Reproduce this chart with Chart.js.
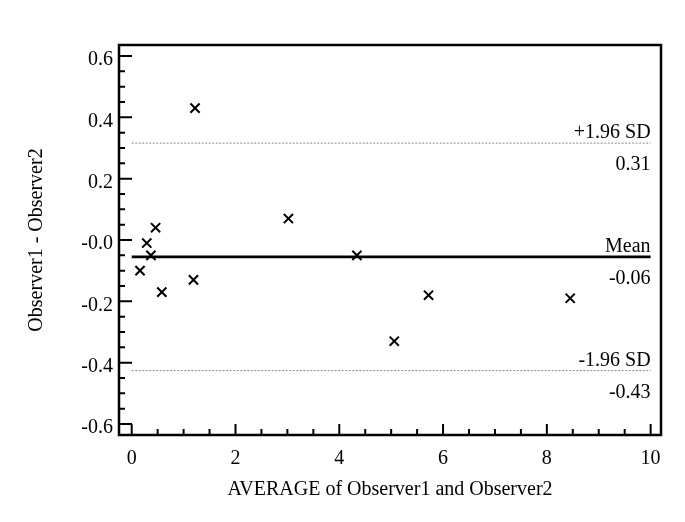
<!DOCTYPE html>
<html>
<head>
<meta charset="utf-8">
<script src="https://cdn.jsdelivr.net/npm/chart.js@4"></script>
<style>
html,body{margin:0;padding:0;background:#fff;}
#wrap{width:685px;height:522px;}
</style>
</head>
<body>
<div id="wrap"><canvas id="c" width="685" height="522"></canvas></div>
<script>
// Data
const avgValues  = [1.22, 0.16, 0.29, 0.37, 0.46, 0.58, 1.19, 3.02, 4.34, 5.06, 5.72, 8.45];
const diffValues = [0.43, -0.10, -0.01, -0.05, 0.04, -0.17, -0.13, 0.07, -0.05, -0.33, -0.18, -0.19];
const meanDiff = -0.055;
const upperLoA = 0.316;
const lowerLoA = -0.426;
const lineLabels = [
  {y: upperLoA, above: '+1.96 SD', below: '0.31'},
  {y: meanDiff, above: 'Mean', below: '-0.06'},
  {y: lowerLoA, above: '-1.96 SD', below: '-0.43'}
];
const xTickValues = [0, 2, 4, 6, 8, 10];
const xTickLabels = ['0', '2', '4', '6', '8', '10'];
const yTickValues = [-0.6, -0.4, -0.2, 0, 0.2, 0.4, 0.6];
const yTickLabels = ['-0.6', '-0.4', '-0.2', '-0.0', '0.2', '0.4', '0.6'];
const xTitle = 'AVERAGE of Observer1 and Observer2';
const yTitle = 'Observer1 - Observer2';

const FONT = "'Liberation Serif', 'DejaVu Serif', serif";
Chart.defaults.font.family = FONT;
Chart.defaults.color = '#000';

const points = avgValues.map((x, i) => ({x: x, y: diffValues[i]}));
const lineSpan = (y) => [{x: 0, y: y}, {x: 10, y: y}];

const frameAndTicks = {
  id: 'frameAndTicks',
  afterDraw(chart) {
    const ctx = chart.ctx;
    const a = chart.chartArea;
    const xs = chart.scales.x, ys = chart.scales.y;
    ctx.save();
    ctx.strokeStyle = '#000';
    // ticks (inward)
    ctx.lineWidth = 2;
    ctx.beginPath();
    for (let k = -12; k <= 12; k++) {
      const v = k * 0.05;
      const py = ys.getPixelForValue(v);
      const major = (k % 4 === 0);
      ctx.moveTo(a.left, py);
      ctx.lineTo(a.left + (major ? 13 : 6), py);
    }
    for (let k = 0; k <= 20; k++) {
      const v = k * 0.5;
      const px = xs.getPixelForValue(v);
      const major = (k % 4 === 0);
      ctx.moveTo(px, a.bottom);
      ctx.lineTo(px, a.bottom - (major ? 11 : 6));
    }
    ctx.stroke();
    // frame
    ctx.lineWidth = 2.5;
    ctx.strokeRect(a.left, a.top, a.right - a.left, a.bottom - a.top);
    // line labels
    ctx.fillStyle = '#000';
    ctx.font = '20px ' + FONT;
    ctx.textAlign = 'right';
    ctx.textBaseline = 'alphabetic';
    const rx = xs.getPixelForValue(10);
    lineLabels.forEach(l => {
      const py = ys.getPixelForValue(l.y);
      ctx.fillText(l.above, rx, py - 5);
      ctx.fillText(l.below, rx, py + 27);
    });
    ctx.restore();
  }
};

new Chart(document.getElementById('c'), {
  type: 'scatter',
  data: {
    datasets: [
      {
        type: 'line',
        data: lineSpan(upperLoA),
        borderColor: '#8a8a8a',
        borderWidth: 1,
        borderDash: [2, 1.5],
        pointRadius: 0,
        fill: false
      },
      {
        type: 'line',
        data: lineSpan(meanDiff),
        borderColor: '#000',
        borderWidth: 2.6,
        pointRadius: 0,
        fill: false
      },
      {
        type: 'line',
        data: lineSpan(lowerLoA),
        borderColor: '#8a8a8a',
        borderWidth: 1,
        borderDash: [2, 1.5],
        pointRadius: 0,
        fill: false
      },
      {
        data: points,
        pointStyle: 'crossRot',
        pointRadius: 6.5,
        pointBorderWidth: 2,
        borderColor: '#000',
        backgroundColor: '#000'
      }
    ]
  },
  options: {
    responsive: false,
    animation: false,
    devicePixelRatio: 1,
    layout: {padding: {top: 45, right: 24, left: 0, bottom: 0}},
    plugins: {legend: {display: false}, tooltip: {enabled: false}},
    scales: {
      x: {
        type: 'linear',
        min: -0.245,
        max: 10.2,
        grid: {display: false, drawTicks: false},
        border: {display: false},
        afterBuildTicks: (s) => { s.ticks = xTickValues.map(v => ({value: v})); },
        afterFit: (s) => { s.height = 87; },
        ticks: {
          padding: 12,
          font: {size: 20},
          color: '#000',
          maxRotation: 0,
          callback: (v) => { const i = xTickValues.indexOf(v); return i >= 0 ? xTickLabels[i] : ''; }
        },
        title: {display: true, text: xTitle, font: {size: 20}, color: '#000', padding: {top: 0, bottom: 20}}
      },
      y: {
        type: 'linear',
        min: -0.636,
        max: 0.636,
        grid: {display: false, drawTicks: false},
        border: {display: false},
        afterBuildTicks: (s) => { s.ticks = yTickValues.map(v => ({value: v})); },
        afterFit: (s) => { s.width = 119; },
        ticks: {
          padding: 6,
          labelOffset: 4,
          font: {size: 20},
          color: '#000',
          callback: (v) => {
            let i = -1;
            yTickValues.forEach((t, k) => { if (Math.abs(t - v) < 1e-9) i = k; });
            return i >= 0 ? yTickLabels[i] : '';
          }
        },
        title: {display: true, text: yTitle, font: {size: 20}, color: '#000', padding: {top: 25, bottom: 0}}
      }
    }
  },
  plugins: [frameAndTicks]
});
</script>
</body>
</html>
